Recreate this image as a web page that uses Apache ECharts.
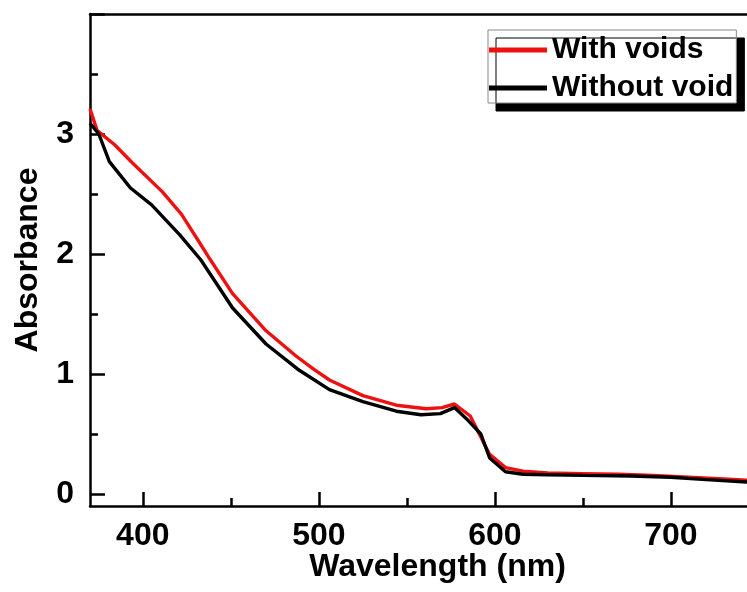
<!DOCTYPE html>
<html>
<head>
<meta charset="UTF-8">
<title>Absorbance</title>
<script src="https://cdn.jsdelivr.net/npm/echarts@6.0.0/dist/echarts.min.js"></script>
<style>
  html, body { margin: 0; padding: 0; background: #fff; overflow: hidden; }
  #chart { width: 747px; height: 592px; }
</style>
</head>
<body>
<div id="chart"></div>
<script>
// data
const voidsWl = [370, 374, 384, 394, 411, 422, 432, 438, 451, 470, 487, 497, 506, 525, 544, 561, 570, 577, 586, 597, 606, 616, 630, 650, 670, 690, 710, 730, 750];
const voidsAbs = [3.21, 3.03, 2.91, 2.76, 2.52, 2.33, 2.10, 1.96, 1.67, 1.36, 1.15, 1.04, 0.95, 0.82, 0.74, 0.71, 0.72, 0.75, 0.65, 0.33, 0.22, 0.19, 0.175, 0.17, 0.165, 0.155, 0.14, 0.125, 0.11];
const noVoidWl = [370, 375, 381, 393, 405, 421, 433, 451, 470, 488, 506, 525, 544, 558, 569, 577, 585, 592, 597, 606, 616, 630, 650, 677, 700, 720, 743, 750];
const noVoidAbs = [3.09, 3.00, 2.77, 2.55, 2.41, 2.16, 1.95, 1.55, 1.25, 1.04, 0.87, 0.77, 0.69, 0.66, 0.67, 0.72, 0.61, 0.50, 0.30, 0.185, 0.165, 0.16, 0.155, 0.15, 0.14, 0.12, 0.10, 0.095];

const xMajor = [400, 500, 600, 700];
const xMinor = [450, 550, 650];
const yMajor = [0, 1, 2, 3];
const yMinor = [0.5, 1.5, 2.5, 3.5];

const font = "'Liberation Sans', Arial, sans-serif";
const black = '#000';

function pairs(xs, ys) {
  return xs.map((x, i) => [x, ys[i]]);
}

const chart = echarts.init(document.getElementById('chart'));
chart.setOption({
  animation: false,
  // the plot runs a little past the right edge of the picture
  grid: { left: 90, top: 14, width: 669, bottom: 86, outerBoundsMode: 'none', containLabel: false },
  legend: {
    orient: 'vertical',
    left: 488, top: 30,
    padding: [5, 3, 0, 1],
    itemGap: 8,
    itemWidth: 58, itemHeight: 5,
    icon: 'rect',
    backgroundColor: '#fff',
    borderColor: '#888', borderWidth: 1,
    shadowColor: '#000', shadowBlur: 0, shadowOffsetX: 8, shadowOffsetY: 8,
    textStyle: { fontSize: 30, fontWeight: 'bold', color: black, fontFamily: font },
    data: ['With voids', 'Without void']
  },
  xAxis: [
    {
      type: 'value', position: 'bottom', min: 370, max: 750,
      name: 'Wavelength (nm)', nameLocation: 'middle', nameGap: 45, nameMoveOverlap: false,
      nameTextStyle: { fontSize: 32, fontWeight: 'bold', color: black, fontFamily: font, padding: [0, 0, 0, 26] },
      axisLine: { onZero: false, lineStyle: { color: black, width: 2.5 } },
      axisTick: { inside: true, length: 14, lineStyle: { color: black, width: 2.5 }, customValues: xMajor },
      axisLabel: { customValues: xMajor, fontSize: 32, fontWeight: 'bold', color: black, fontFamily: font, margin: 14 },
      splitLine: { show: false }
    },
    {
      type: 'value', position: 'bottom', min: 370, max: 750,
      axisLine: { show: false, onZero: false },
      axisTick: { inside: true, length: 8, lineStyle: { color: black, width: 2.5 }, customValues: xMinor },
      axisLabel: { show: false },
      splitLine: { show: false }
    },
    {
      type: 'value', position: 'top', min: 370, max: 750,
      axisLine: { onZero: false, lineStyle: { color: black, width: 2.5 } },
      axisTick: { show: false }, axisLabel: { show: false }, splitLine: { show: false }
    }
  ],
  yAxis: [
    {
      type: 'value', position: 'left', min: -0.1, max: 4,
      name: 'Absorbance', nameLocation: 'middle', nameGap: 46, nameMoveOverlap: false,
      nameTextStyle: { fontSize: 32, fontWeight: 'bold', color: black, fontFamily: font },
      axisLine: { show: true, onZero: false, lineStyle: { color: black, width: 2.5 } },
      axisTick: { show: true, inside: true, length: 15, lineStyle: { color: black, width: 2.5 }, customValues: [0, 1, 2, 3, 4] },
      axisLabel: { customValues: yMajor, fontSize: 32, fontWeight: 'bold', color: black, fontFamily: font, margin: 16 },
      splitLine: { show: false }
    },
    {
      type: 'value', position: 'left', min: -0.1, max: 4,
      axisLine: { show: false, onZero: false },
      axisTick: { show: true, inside: true, length: 8, lineStyle: { color: black, width: 2.5 }, customValues: yMinor },
      axisLabel: { show: false },
      splitLine: { show: false }
    },
    {
      type: 'value', position: 'right', min: -0.1, max: 4,
      axisLine: { show: true, onZero: false, lineStyle: { color: black, width: 2.5 } },
      axisTick: { show: false }, axisLabel: { show: false }, splitLine: { show: false }
    }
  ],
  series: [
    {
      name: 'With voids', type: 'line', xAxisIndex: 0, yAxisIndex: 0,
      data: pairs(voidsWl, voidsAbs),
      symbol: 'none', color: '#ee1111',
      lineStyle: { width: 3.4, color: '#ee1111' }
    },
    {
      name: 'Without void', type: 'line', xAxisIndex: 0, yAxisIndex: 0,
      data: pairs(noVoidWl, noVoidAbs),
      symbol: 'none', color: black,
      lineStyle: { width: 3.4, color: black }
    }
  ]
});
</script>
</body>
</html>
